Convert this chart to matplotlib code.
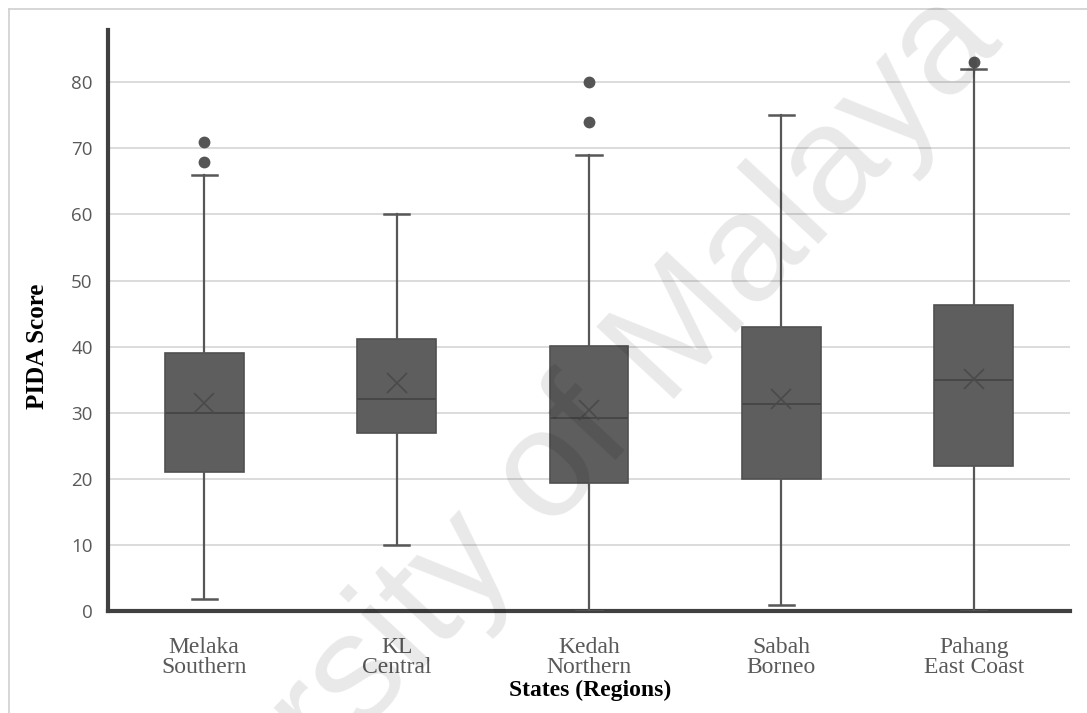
import matplotlib
matplotlib.use("Agg")
import matplotlib.pyplot as plt
from matplotlib.lines import Line2D

# ---- data ----
categories = ["Melaka\nSouthern", "KL\nCentral", "Kedah\nNorthern", "Sabah\nBorneo", "Pahang\nEast Coast"]
whisker_low = [1.8, 10.0, 0.0, 0.9, 0.0]
q1 = [21.0, 26.9, 19.3, 19.9, 22.0]
median = [30.0, 32.1, 29.2, 31.3, 35.0]
q3 = [39.0, 41.1, 40.1, 43.0, 46.3]
whisker_high = [66.0, 60.0, 69.0, 75.0, 82.0]
mean = [31.5, 34.5, 30.4, 32.1, 35.1]
outliers = [[68.0, 71.0], [], [74.0, 80.0], [], [83.0]]
yticks = [0, 10, 20, 30, 40, 50, 60, 70, 80]

W, H = 1087, 713
fig = plt.figure(figsize=(W / 100, H / 100), dpi=100)
ax = fig.add_axes([108 / W, 1 - 611 / H, (1070 - 108) / W, (611 - 30) / H])

stats = []
for i in range(len(categories)):
    stats.append(dict(med=median[i], q1=q1[i], q3=q3[i], whislo=whisker_low[i],
                      whishi=whisker_high[i], mean=mean[i], fliers=outliers[i], label=categories[i]))

box_col = "#5e5e5e"
line_col = "#575757"
ax.bxp(stats, positions=range(1, len(categories) + 1), widths=0.41, patch_artist=True,
       showmeans=True, capwidths=0.13,
       boxprops=dict(facecolor=box_col, edgecolor="#505050", linewidth=1.2),
       medianprops=dict(color="#474747", linewidth=1.4),
       whiskerprops=dict(color=line_col, linewidth=1.6),
       capprops=dict(color=line_col, linewidth=1.8),
       meanprops=dict(marker="x", markersize=14, markeredgecolor="#4a4a4a", markeredgewidth=1.2),
       flierprops=dict(marker="o", markersize=7.5, markerfacecolor="#555555", markeredgecolor="#555555"),
       zorder=3)

ax.set_xlim(0.5, len(categories) + 0.5)
ax.set_ylim(0, 87.9)
ax.set_yticks(yticks)
ax.set_yticklabels([str(v) for v in yticks], family="Open Sans", fontsize=13.5, color="#595959")
ax.set_xticks(range(1, len(categories) + 1))
ax.set_xticklabels(categories, family="Liberation Serif", fontsize=17, color="#595959",
                   linespacing=0.92)
ax.tick_params(axis="both", length=0)
ax.tick_params(axis="x", pad=19)
ax.tick_params(axis="y", pad=11)

ax.grid(axis="y", color="#d9d9d9", linewidth=1.3, zorder=0)
ax.set_axisbelow(True)
for s in ["top", "right"]:
    ax.spines[s].set_visible(False)
ax.spines["left"].set_color("#404040")
ax.spines["left"].set_linewidth(3)
ax.spines["bottom"].set_color("#404040")
ax.spines["bottom"].set_linewidth(3)

fig.text(38 / W, 1 - 346 / H, "PIDA Score", rotation=90, ha="center", va="center",
         family="Liberation Serif", fontweight="bold", fontsize=18)
fig.text(590 / W, 1 - 690 / H, "States (Regions)", ha="center", va="center",
         family="Liberation Serif", fontweight="bold", fontsize=17)

# image frame (top and left)
fig.add_artist(Line2D([9 / W, 9 / W], [0, 1 - 9 / H], transform=fig.transFigure, color="#d0d0d0", lw=1.2))
fig.add_artist(Line2D([9 / W, 1], [1 - 9 / H, 1 - 9 / H], transform=fig.transFigure, color="#d0d0d0", lw=1.2))

# watermark
fig.text(532 / W, 1 - 552 / H, "University of Malaya", rotation=47, rotation_mode="anchor",
         ha="center", va="baseline", family="Liberation Sans", fontsize=111,
         color="black", alpha=0.09, zorder=10)

fig.savefig("out.png", dpi=100)
